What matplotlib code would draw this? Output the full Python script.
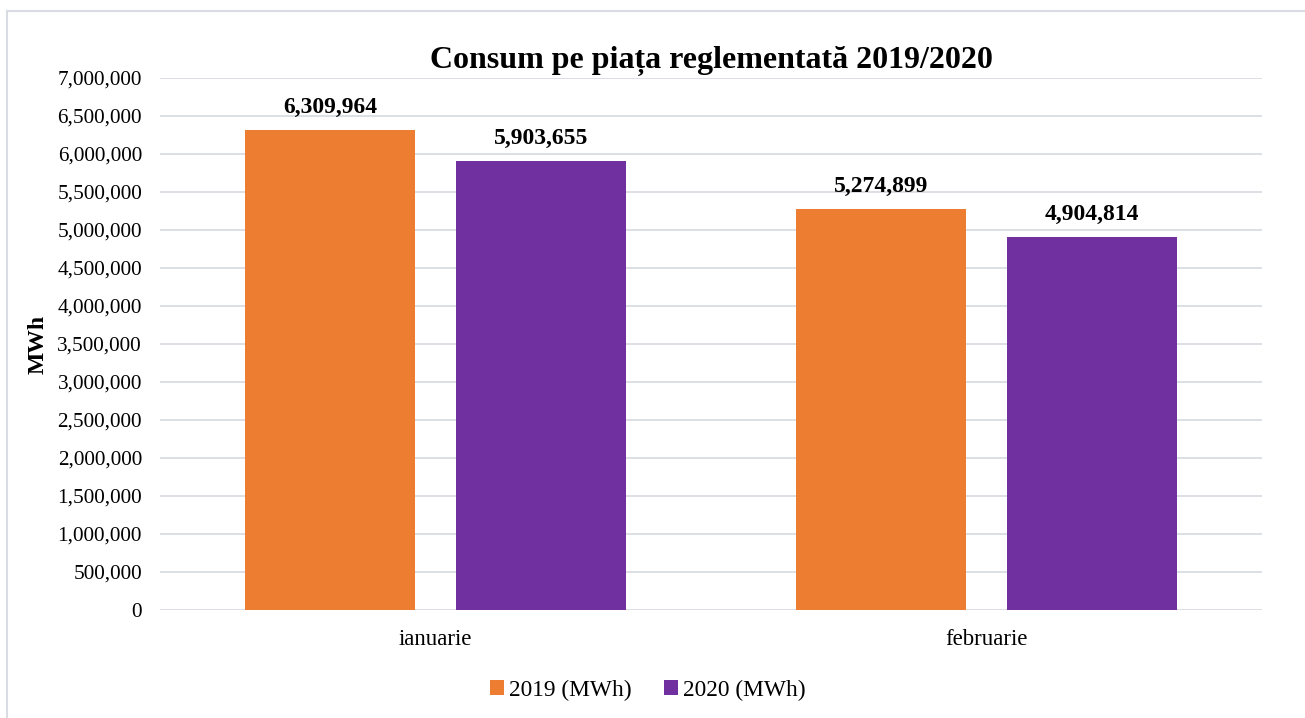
import numpy as np
import matplotlib.pyplot as plt
from matplotlib.lines import Line2D
from matplotlib.ticker import FuncFormatter

months = ["ianuarie", "februarie"]
values_2019 = [6309964, 5274899]
values_2020 = [5903655, 4904814]
series_names = ["2019 (MWh)", "2020 (MWh)"]

orange = "#ed7d31"
purple = "#7030a0"
grid_col = "#d9dde3"

plt.rcParams['font.family'] = ['Liberation Serif', 'DejaVu Serif']

W, H = 1305, 718
fig = plt.figure(figsize=(W / 100, H / 100), dpi=100)
ax = fig.add_axes([160 / W, 1 - 610 / H, (1262 - 160) / W, (610 - 78) / H])

x = np.arange(len(months))
bw = 0.309
off = 0.1915
b1 = ax.bar(x - off, values_2019, bw, color=orange, label=series_names[0], zorder=3)
b2 = ax.bar(x + off, values_2020, bw, color=purple, label=series_names[1], zorder=3)

for bars in (b1, b2):
    for r in bars:
        ax.annotate(f"{int(r.get_height()):,}", (r.get_x() + r.get_width() / 2, r.get_height()),
                    xytext=(0, 9), textcoords="offset points", ha="center", va="bottom",
                    fontsize=17, fontweight="bold")

ax.set_xlim(-0.5, 1.5)
ax.set_ylim(0, 7000000)
ax.set_yticks(np.arange(0, 7000001, 500000))
ax.yaxis.set_major_formatter(FuncFormatter(lambda v, p: f"{int(v):,}"))
ax.set_xticks(x)
ax.set_xticklabels(months)
ax.tick_params(axis="both", length=0, colors="#000000")
ax.tick_params(axis="x", pad=14, labelsize=16.5)
ax.tick_params(axis="y", pad=13, labelsize=15.3)
ax.yaxis.grid(True, color=grid_col, linewidth=1.3, zorder=0)
for s in ax.spines.values():
    s.set_visible(False)

ax.set_ylabel("MWh", fontsize=17, fontweight="bold", labelpad=6)
ax.set_title("Consum pe piața reglementată 2019/2020", fontsize=23, fontweight="bold", pad=7)

fig.legend(handles=[b1, b2], loc="center", bbox_to_anchor=(648 / W, 1 - 690 / H),
           ncol=2, frameon=False, fontsize=16.8, handlelength=0.6, handleheight=0.6,
           columnspacing=1.4, handletextpad=0.2)

# chart frame
fig.add_artist(Line2D([7 / W, 7 / W], [0, 1 - 11 / H], color=grid_col, lw=1.5, transform=fig.transFigure))
fig.add_artist(Line2D([7 / W, 1], [1 - 11 / H, 1 - 11 / H], color=grid_col, lw=1.5, transform=fig.transFigure))

fig.savefig("out.png", dpi=100)
